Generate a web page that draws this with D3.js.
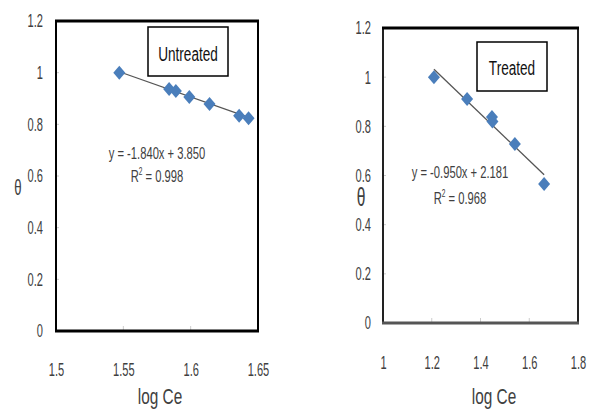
<!DOCTYPE html>
<html>
<head>
<meta charset="utf-8">
<script src="https://cdn.jsdelivr.net/npm/d3@7"></script>
<style>
  body { margin: 0; background: #fff; }
  text { font-family: "Liberation Sans", Arial, sans-serif; fill: #404040; }
</style>
</head>
<body>
<script>
// data
var untreatedX = [1.547, 1.584, 1.589, 1.599, 1.614, 1.636, 1.643];
var untreatedY = [1.0, 0.937, 0.929, 0.906, 0.879, 0.833, 0.824];
var untreatedXTicks = [1.5, 1.55, 1.6, 1.65];

var treatedX = [1.209, 1.345, 1.447, 1.449, 1.541, 1.661];
var treatedY = [1.0, 0.911, 0.838, 0.820, 0.728, 0.565];
var treatedXTicks = [1, 1.2, 1.4, 1.6, 1.8];

var yTicks = [0, 0.2, 0.4, 0.6, 0.8, 1, 1.2];

var svg = d3.select("body").append("svg")
    .attr("width", 592)
    .attr("height", 415);

// the original text is tall and narrow, squeeze it horizontally
function squeeze(sel, s) {
    sel.each(function() {
        var t = d3.select(this);
        var tx = +t.attr("x") || 0;
        t.attr("x", 0).attr("transform", "translate(" + tx + ",0) scale(" + s + ",1)");
    });
}

function label(g, x, y, txt, size, s, anchor) {
    return g.append("text")
        .attr("transform", "translate(" + x + "," + y + ") scale(" + s + ",1)")
        .attr("text-anchor", anchor || "middle")
        .style("font-size", size + "px")
        .text(txt);
}

function drawPanel(p) {
    var x = d3.scaleLinear().domain(p.xDomain).range([p.left, p.right]);
    var y = d3.scaleLinear().domain([0, 1.2]).range([p.bottom, p.top]);
    var g = svg.append("g");

    // y axis labels + small inner ticks
    var yAxis = d3.axisLeft(y).tickValues(yTicks).tickFormat(d3.format("")).tickSize(0).tickPadding(p.yPad);
    var ya = g.append("g").attr("transform", "translate(" + p.left + ",0)").call(yAxis);
    ya.select(".domain").remove();
    ya.selectAll("text").style("font-size", "18.5px").attr("fill", "#404040").call(squeeze, 0.6);
    g.selectAll(".ytick").data(yTicks.slice(1, -1)).enter().append("line")
        .attr("x1", p.left).attr("x2", p.left + 3)
        .attr("y1", function(d) { return y(d); }).attr("y2", function(d) { return y(d); })
        .attr("stroke", "#ccc");

    var xAxis = d3.axisBottom(x).tickValues(p.xTicks).tickFormat(d3.format("")).tickSize(0).tickPadding(p.xPad);
    var xa = g.append("g").attr("transform", "translate(0," + p.bottom + ")").call(xAxis);
    xa.select(".domain").remove();
    xa.selectAll("text").style("font-size", "18.5px").attr("fill", "#404040").call(squeeze, 0.6);
    g.selectAll(".xtick").data(p.xTicks.slice(1, -1)).enter().append("line")
        .attr("x1", function(d) { return x(d); }).attr("x2", function(d) { return x(d); })
        .attr("y1", p.bottom).attr("y2", p.bottom - 5)
        .attr("stroke", "#ccc");

    // frame
    g.append("line").attr("x1", p.left).attr("x2", p.left).attr("y1", p.top).attr("y2", p.bottom)
        .attr("stroke", p.sideColor).attr("stroke-width", 2);
    g.append("line").attr("x1", p.right).attr("x2", p.right).attr("y1", p.top).attr("y2", p.bottom)
        .attr("stroke", p.sideColor).attr("stroke-width", 2);
    g.append("line").attr("x1", p.left - 1).attr("x2", p.right + 1).attr("y1", p.top).attr("y2", p.top)
        .attr("stroke", "#000").attr("stroke-width", 3);
    g.append("line").attr("x1", p.left - 1).attr("x2", p.right + 1).attr("y1", p.bottom).attr("y2", p.bottom)
        .attr("stroke", p.bottomColor).attr("stroke-width", 3);

    // trendline from equation
    var x0 = d3.min(p.xs), x1 = d3.max(p.xs);
    g.append("line")
        .attr("x1", x(x0)).attr("y1", y(p.slope * x0 + p.icpt))
        .attr("x2", x(x1)).attr("y2", y(p.slope * x1 + p.icpt))
        .attr("stroke", "#555").attr("stroke-width", 1.3);

    // diamonds
    g.selectAll(".pt").data(d3.range(p.xs.length)).enter().append("path")
        .attr("transform", function(i) { return "translate(" + x(p.xs[i]) + "," + y(p.ys[i]) + ")"; })
        .attr("d", "M0,-7L6,0L0,7L-6,0Z")
        .attr("fill", "#4a7ebb");

    // title box
    g.append("rect").attr("x", p.box[0]).attr("y", p.box[1]).attr("width", p.box[2]).attr("height", p.box[3])
        .attr("fill", "#fff").attr("stroke", "#000").attr("stroke-width", 1.5);
    label(g, p.box[0] + p.box[2] / 2, p.titleY, p.title, 20, 0.68).style("fill", "#111");

    // equation
    label(g, p.eq[0], p.eq[1], p.eqText, 17, 0.66);
    var r = g.append("text")
        .attr("transform", "translate(" + p.eq[0] + "," + (p.eq[1] + p.eqGap) + ") scale(0.66,1)")
        .attr("text-anchor", "middle")
        .style("font-size", "17px");
    r.append("tspan").text("R");
    r.append("tspan").attr("dy", -7).style("font-size", "10px").text("2");
    r.append("tspan").attr("dy", 7).text(" = " + p.r2);

    // axis titles
    label(g, p.theta[0], p.theta[1], "θ", p.theta[2], 0.6);
    label(g, p.xTitle[0], p.xTitle[1], "log Ce", 22, 0.7);
}

drawPanel({
    left: 56, right: 258, top: 21, bottom: 331,
    xDomain: [1.5, 1.65], xTicks: untreatedXTicks,
    xs: untreatedX, ys: untreatedY,
    slope: -1.840, icpt: 3.850,
    xPad: 32, yPad: 13,
    sideColor: "#000", bottomColor: "#000",
    box: [148, 27, 80, 49], title: "Untreated", titleY: 61,
    eq: [157, 159], eqGap: 23, eqText: "y = -1.840x + 3.850", r2: "0.998",
    theta: [18, 195, 22],
    xTitle: [160, 404]
});

drawPanel({
    left: 383, right: 578, top: 28, bottom: 323,
    xDomain: [1, 1.8], xTicks: treatedXTicks,
    xs: treatedX, ys: treatedY,
    slope: -0.950, icpt: 2.181,
    xPad: 33, yPad: 12,
    sideColor: "#222", bottomColor: "#555",
    box: [477, 42, 70, 49], title: "Treated", titleY: 75,
    eq: [460, 178], eqGap: 26, eqText: "y = -0.950x + 2.181", r2: "0.968",
    theta: [361, 206, 26],
    xTitle: [494, 404]
});
</script>
</body>
</html>
